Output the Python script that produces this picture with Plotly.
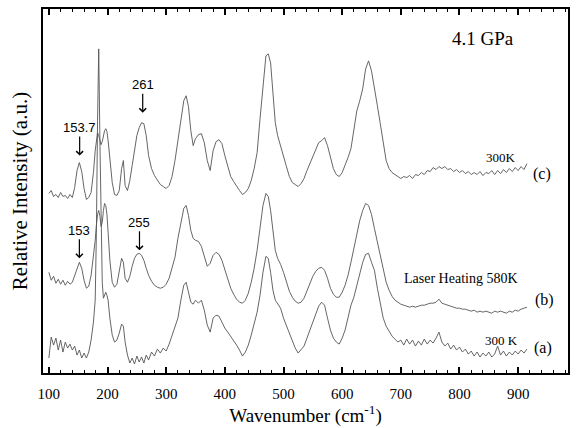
import plotly.graph_objects as go

# Raman shift grid (cm^-1)
wavenumber = [
    100, 104, 108, 112, 116, 120, 124, 128, 132, 136,
    140, 144, 148, 152, 156, 160, 164, 168, 172, 176,
    179, 181, 183, 185, 187, 189, 191, 193, 195, 197,
    199, 201, 204, 208, 212, 216, 220, 224, 227, 230,
    234, 238, 242, 246, 250, 254, 258, 262, 266, 270,
    275, 280, 285, 290, 295, 300, 305, 310, 315, 320,
    325, 330, 334, 338, 342, 346, 350, 355, 360, 365,
    370, 375, 380, 385, 390, 395, 400, 405, 410, 415,
    420, 425, 430, 435, 440, 445, 450, 455, 460, 465,
    470, 474, 478, 482, 486, 490, 495, 500, 505, 510,
    515, 520, 525, 530, 535, 540, 545, 550, 555, 560,
    565, 570, 575, 580, 585, 590, 595, 600, 605, 610,
    615, 620, 625, 630, 635, 640, 645, 650, 655, 660,
    665, 670, 675, 680, 685, 690, 695, 700, 705, 710,
    715, 720, 725, 730, 735, 740, 745, 750, 755, 760,
    765, 770, 775, 780, 785, 790, 795, 800, 805, 810,
    815, 820, 825, 830, 835, 840, 845, 850, 855, 860,
    865, 870, 875, 880, 885, 890, 895, 900, 905, 910,
    915,
]

# (c) 300K after heating (offset spectrum, top)
intensity_c = [
    180, 183, 177, 179, 176, 181, 177, 178, 175, 179,
    176, 186, 203, 211, 202, 185, 174, 176, 181, 201,
    223, 235, 241, 238, 233, 229, 232, 239, 243, 245,
    242, 233, 213, 191, 179, 178, 183, 205, 213, 188,
    183, 193, 208, 223, 238, 246, 251, 250, 238, 218,
    205, 198, 193, 189, 187, 185, 188, 197, 213, 233,
    255, 273, 278, 267, 243, 228, 235, 239, 240, 231,
    213, 203, 223, 232, 234, 230, 218, 207, 197, 192,
    187, 183, 179, 181, 185, 193, 205, 221, 255, 291,
    318, 320, 311, 281, 251, 238, 227, 217, 207, 197,
    191, 189, 187, 190, 195, 203, 210, 216, 223, 231,
    233, 236, 228, 215, 205, 199, 197, 201, 208, 216,
    225, 243, 263, 273, 285, 305, 313, 303, 287, 268,
    250, 230, 213, 205, 201, 199, 197, 195, 197, 196,
    198, 195, 199, 198, 201, 199, 203, 202, 206, 204,
    207, 205, 207, 204, 205, 202, 204, 201, 203, 200,
    202, 199, 201, 199, 202, 198, 201, 200, 203, 199,
    203, 200, 204, 201, 205, 202, 206, 203, 207, 204,
    210,
]

# (b) Laser heating 580K (middle)
intensity_b = [
    101, 93, 97, 90, 94, 89, 93, 88, 92, 89,
    91, 97, 105, 111, 105, 93, 85, 87, 98, 115,
    133, 148, 159, 163, 157, 147, 151, 163, 170, 168,
    159, 141, 113, 91, 86, 89, 101, 115, 111, 95,
    91, 97, 107, 115, 119, 120, 118, 113, 105, 98,
    92, 88, 86, 85, 86, 89, 95, 105, 116, 135,
    151, 165, 168, 158, 143, 135, 133, 132, 127, 117,
    107, 110, 118, 121, 119, 113, 103, 93, 85, 79,
    74, 71, 70, 73, 80, 91, 105, 123, 145, 168,
    180, 177, 163, 141, 123, 115, 109, 101, 91, 82,
    76, 72, 70, 71, 75, 83, 91, 97, 102, 105,
    106, 103, 95, 85, 79, 76, 76, 81, 88, 98,
    111, 125, 141, 153, 163, 170, 168, 159, 145, 131,
    117, 103, 91, 83, 77, 73, 71, 69, 68, 67,
    66, 67, 66, 67, 68, 68, 69, 70, 70, 71,
    74, 70, 69, 68, 67, 66, 65, 65, 64, 64,
    63, 62, 63, 61, 62, 61, 62, 61, 60, 62,
    61, 62, 61, 60, 62, 61, 63, 62, 64, 65,
    66,
]

# (a) 300 K before heating (bottom)
intensity_a = [
    15, 36, 28, 35, 23, 33, 21, 31, 25, 29,
    23, 27, 18, 23, 15, 20, 15, 21, 33, 51,
    73, 141, 253, 325, 233, 133, 91, 75, 78, 81,
    78, 73, 55, 38, 31, 33, 40, 49, 47, 31,
    18, 10, 15, 9, 17, 11, 16, 10, 18, 13,
    21, 17, 24, 20, 25, 22, 29, 37, 45, 55,
    73, 88, 91, 81, 71, 69, 73, 70, 73, 63,
    48, 41, 55, 58, 57, 51, 45, 41, 37, 33,
    28, 23, 17, 21, 28, 38, 51, 61, 78, 101,
    117, 115, 101, 83, 73, 69, 65, 55, 47, 40,
    33, 25, 20, 23, 27, 35, 43, 51, 59, 67,
    71, 68, 55, 43, 35, 31, 29, 35, 43, 55,
    68, 76, 88, 101, 111, 119, 120, 111, 103, 85,
    71, 55, 47, 42, 37, 34, 31, 33, 28, 34,
    29, 33, 27, 32, 28, 34, 29, 33, 30, 35,
    41, 31, 27, 30, 24, 28, 23, 26, 21, 24,
    19, 22, 17, 21, 16, 20, 17, 21, 16, 19,
    27, 18, 22, 17, 21, 18, 22, 19, 23, 20,
    24,
]

assert len(wavenumber) == len(intensity_a) == len(intensity_b) == len(intensity_c)

# peak labels: (text, wavenumber, intensity at arrow tip)
peak_labels = [("153.7", 152.5, 218), ("261", 260, 261), ("153", 152, 115), ("255", 254.5, 123)]

# trace labels: (text, wavenumber, intensity, font size)
trace_labels = [
    ("4.1 GPa", 840, 335, 19),
    ("300K", 871, 216, 13),
    ("(c)", 940, 200, 16),
    ("Laser Heating 580K", 803, 95, 14),
    ("(b)", 945, 73, 16),
    ("300 K", 872, 33, 13),
    ("(a)", 942, 25, 16),
]

line_color = "#555555"
fig = go.Figure()
for name, ys in [("(a) 300 K", intensity_a), ("(b) Laser Heating 580K", intensity_b), ("(c) 300K", intensity_c)]:
    fig.add_trace(go.Scatter(x=wavenumber, y=ys, mode="lines", name=name,
                             line=dict(color=line_color, width=0.9)))

serif = "Liberation Serif, Times New Roman, serif"
sans = "Liberation Sans, Arial, sans-serif"

annotations = []
for text, wx, wy in peak_labels:
    annotations.append(dict(x=wx, y=wy, xref="x", yref="y", text=text, showarrow=True,
                            ax=0, ay=-28, arrowhead=4, arrowsize=1.1, arrowwidth=1.2,
                            arrowcolor="black", font=dict(family=sans, size=13, color="black")))
for text, wx, wy, fs in trace_labels:
    annotations.append(dict(x=wx, y=wy, xref="x", yref="y", text=text, showarrow=False,
                            xanchor="center", yanchor="middle",
                            font=dict(family=serif, size=fs, color="black")))

fig.update_layout(
    width=577, height=428,
    margin=dict(l=43, r=7, t=8, b=55),
    paper_bgcolor="white", plot_bgcolor="white",
    showlegend=False,
    font=dict(family=serif, color="black"),
    annotations=annotations,
)
fig.update_xaxes(
    range=[90, 985], tick0=100, dtick=100,
    ticks="inside", ticklen=6, tickwidth=1.5, tickcolor="black",
    minor=dict(dtick=20, ticks="inside", ticklen=3, tickwidth=1.2, tickcolor="black"),
    showline=True, linewidth=2, linecolor="black", mirror="allticks",
    showgrid=False, zeroline=False,
    tickfont=dict(family=serif, size=15, color="black"),
    ticklabelstandoff=6,
    title=dict(text="Wavenumber (cm<sup>-1</sup>)", font=dict(family=serif, size=19, color="black"), standoff=3),
)
fig.update_yaxes(
    range=[0, 365], showticklabels=False, ticks="",
    showline=True, linewidth=2, linecolor="black", mirror=True,
    showgrid=False, zeroline=False,
    title=dict(text="Relative Intensity (a.u.)", font=dict(family=serif, size=21, color="black"), standoff=8),
)

fig.write_html("out.html")
